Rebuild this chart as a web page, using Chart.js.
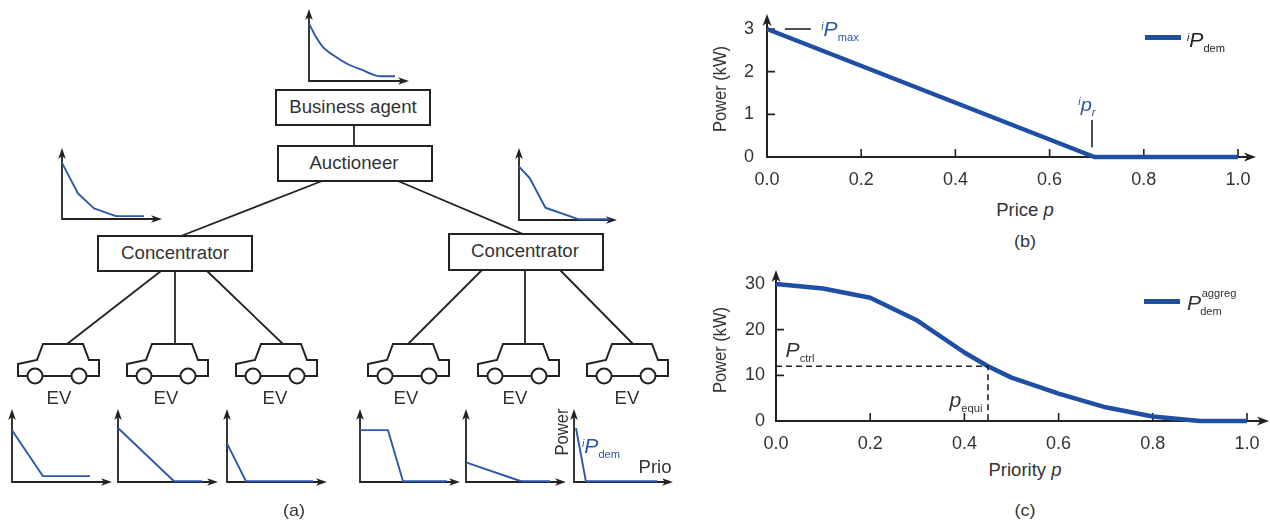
<!DOCTYPE html>
<html><head><meta charset="utf-8">
<style>
html,body{margin:0;padding:0;background:#fff;width:1270px;height:520px;overflow:hidden}
#stage{position:relative;width:1270px;height:520px;font-family:"Liberation Sans",Arial,sans-serif;color:#333}
canvas,svg{position:absolute}
.t{position:absolute;white-space:nowrap;line-height:1;transform:translate(-50%,-50%) scaleX(1.06)}
.v{transform:translate(-50%,-50%) scaleX(1.1) rotate(-90deg)}
.m span{position:relative}
</style>
<script src="https://cdn.jsdelivr.net/npm/chart.js@4/dist/chart.umd.js"></script>
</head><body><div id="stage"><svg id="dg" width="1270" height="520"></svg></div>
<script>
// ---- Data ----
const priceP = [0, 0.695, 1];
const demandKW = [3, 0, 0];
const priorityP = [0, 0.1, 0.2, 0.3, 0.4, 0.45, 0.5, 0.6, 0.7, 0.8, 0.9, 1];
const aggregKW = [30, 29, 27, 22, 15, 12, 9.5, 6, 3, 1, 0, 0];
const ctrlDashX = [0, 0.45, 0.45];
const ctrlDashY = [12, 12, 0];
const pmaxMarkX = [0.038, 0.093];
const pmaxMarkY = [3, 3];
const prMarkX = [0.69, 0.69];
const prMarkY = [0.23, 0.87];

const agentX = [0, 0.07, 0.14, 0.24, 0.38, 0.52, 0.72, 0.86];
const agentY = [0.80, 0.61, 0.47, 0.36, 0.24, 0.16, 0.065, 0.065];
const concLX = [0, 0.16, 0.32, 0.54, 0.82];
const concLY = [0.79, 0.36, 0.15, 0.04, 0.04];
const concRX = [0, 0.11, 0.27, 0.61, 0.93];
const concRY = [0.74, 0.58, 0.17, 0.01, 0.01];
const ev1X = [0, 0.31, 0.78];
const ev1Y = [0.71, 0.08, 0.08];
const ev2X = [0, 0.56, 0.84];
const ev2Y = [0.74, 0.01, 0.01];
const ev3X = [0, 0.19, 0.86];
const ev3Y = [0.53, 0.01, 0.01];
const ev4X = [0, 0.28, 0.43, 0.87];
const ev4Y = [0.71, 0.71, 0.01, 0.01];
const ev5X = [0, 0.55, 0.84];
const ev5Y = [0.27, 0.01, 0.01];
const ev6X = [0.02, 0.12, 0.84];
const ev6Y = [0.74, 0.01, 0.01];

// ---- Styles ----
const BLUE = '#1f4fa3', MINI = '#2b58ad', INK = '#222', TXT = '#333';
const FONT = '"Liberation Sans",Arial,sans-serif';
const zip = (a, b) => a.map((x, i) => ({x, y: b[i]}));

// axes with arrow heads and inward ticks, positioned by the scales
Chart.register({
  id: 'arrowAxes',
  beforeDatasetsDraw(c, _a, o) {
    const {left, right, top, bottom} = c.chartArea, g = c.ctx;
    const tx = right + (o.extraX || 0), ty = top - (o.extraY || 0), lw = o.lw || 2, hl = o.head || 11, hw = o.headW || 4.5;
    g.save();
    g.strokeStyle = INK; g.fillStyle = INK; g.lineWidth = lw;
    g.beginPath(); g.moveTo(left, ty + hl / 2); g.lineTo(left, bottom); g.lineTo(tx - hl / 2, bottom); g.stroke();
    g.beginPath(); g.moveTo(left, ty); g.lineTo(left + hw, ty + hl); g.lineTo(left, ty + hl * 0.72); g.lineTo(left - hw, ty + hl); g.closePath(); g.fill();
    g.beginPath(); g.moveTo(tx, bottom); g.lineTo(tx - hl, bottom - hw); g.lineTo(tx - hl * 0.72, bottom); g.lineTo(tx - hl, bottom + hw); g.closePath(); g.fill();
    if (o.ticks) {
      g.lineWidth = 1.6; g.beginPath();
      c.scales.x.ticks.forEach(t => { if (t.value) { const p = c.scales.x.getPixelForValue(t.value); g.moveTo(p, bottom); g.lineTo(p, bottom - 8); } });
      c.scales.y.ticks.forEach(t => { if (t.value) { const p = c.scales.y.getPixelForValue(t.value); g.moveTo(left, p); g.lineTo(left + 8, p); } });
      g.stroke();
    }
    g.restore();
  }
});

const stage = document.getElementById('stage');
function canvasAt(x, y, w, h) {
  const c = document.createElement('canvas');
  c.width = w; c.height = h;
  c.style.left = x + 'px'; c.style.top = y + 'px'; c.style.width = w + 'px'; c.style.height = h + 'px';
  stage.appendChild(c);
  return c;
}

// ---- Main panels ----
function mainChart(box, yMax, yStep, series, xTip, yTip, yPad) {
  new Chart(canvasAt(box.cx, box.cy, box.cw, box.ch), {
    type: 'line',
    data: {datasets: series},
    options: {
      responsive: false, animation: false, devicePixelRatio: 1,
      layout: {padding: {left: 0, top: box.py - box.cy, right: box.cx + box.cw - box.px - box.pw, bottom: 0}},
      plugins: {legend: {display: false}, tooltip: {enabled: false}, arrowAxes: {extraX: xTip, extraY: yTip, lw: 2, ticks: true, head: 12, headW: 4.5}},
      elements: {point: {radius: 0}},
      scales: {
        x: {type: 'linear', min: 0, max: 1, grid: {display: false}, border: {display: false},
            ticks: {stepSize: 0.2, autoSkip: false, maxRotation: 0, padding: 4, color: TXT, font: {family: FONT, size: 18}, callback: v => v.toFixed(1)},
            afterFit: s => { s.height = box.cy + box.ch - box.py - box.ph; }},
        y: {type: 'linear', min: 0, max: yMax, grid: {display: false}, border: {display: false},
            ticks: {stepSize: yStep, padding: yPad, color: TXT, font: {family: FONT, size: 18}},
            afterFit: s => { s.width = box.px - box.cx; }}
      }
    }
  });
}
const curve = (d, w, color) => ({data: d, borderColor: color, borderWidth: w, fill: false, tension: 0, clip: false, borderJoinStyle: 'round'});

mainChart({cx: 700, cy: 0, cw: 570, ch: 200, px: 767, py: 29, pw: 471, ph: 128}, 3, 1, [
  curve(zip(priceP, demandKW), 4.5, BLUE),
  curve(zip(pmaxMarkX, pmaxMarkY), 1.6, INK),
  curve(zip(prMarkX, prMarkY), 1.6, INK)
], 18, 15, 5);

mainChart({cx: 700, cy: 260, cw: 570, ch: 200, px: 776, py: 284, pw: 471, ph: 137}, 30, 10, [
  Object.assign(curve(zip(ctrlDashX, ctrlDashY), 1.6, INK), {borderDash: [6, 4]}),
  curve(zip(priorityP, aggregKW), 4.5, BLUE)
], 22, 14, 3);

// ---- Small demand plots ----
const miniPlots = [
  [309, 81, 100, 72, agentX, agentY],
  [62, 219, 100, 71, concLX, concLY],
  [519, 220, 98, 72, concRX, concRY],
  [12, 482, 100, 73, ev1X, ev1Y],
  [118, 482, 100, 73, ev2X, ev2Y],
  [227, 482, 100, 73, ev3X, ev3Y],
  [360, 482, 100, 73, ev4X, ev4Y],
  [466, 482, 100, 73, ev5X, ev5Y],
  [574, 482, 99, 73, ev6X, ev6Y]
];
miniPlots.forEach(([ox, oy, w, h, xs, ys]) => {
  const m = 8;
  const ds = curve(zip(xs, ys), 1.9, MINI);
  if (xs === agentX) ds.cubicInterpolationMode = 'monotone';
  new Chart(canvasAt(ox - m, oy - h - m, w + 2 * m, h + 2 * m), {
    type: 'line',
    data: {datasets: [ds]},
    options: {
      responsive: false, animation: false, devicePixelRatio: 1,
      layout: {padding: m},
      plugins: {legend: {display: false}, tooltip: {enabled: false}, arrowAxes: {lw: 1.8, head: 11, headW: 3.8}},
      elements: {point: {radius: 0}},
      scales: {x: {type: 'linear', min: 0, max: 1, display: false}, y: {type: 'linear', min: 0, max: 1, display: false}}
    }
  });
});

// ---- Block diagram ----
const svg = document.getElementById('dg');
function el(n, a) { const e = document.createElementNS('http://www.w3.org/2000/svg', n); for (const k in a) e.setAttribute(k, a[k]); svg.appendChild(e); return e; }
[[354,125,354,146],[322,181,181,236],[398,181,523,234],
 [161,271,67,344],[175,271,175,344],[207,271,283,344],
 [482,270,408,344],[525,270,525,344],[560,270,633,344]].forEach(([x1,y1,x2,y2]) =>
  el('line', {x1, y1, x2, y2, stroke: INK, 'stroke-width': 1.8}));
[[276,90,154,35],[278,146,154,35],[98,236,154,35],[449,234,154,36]].forEach(([x,y,width,height]) =>
  el('rect', {x, y, width, height, fill: '#fff', stroke: INK, 'stroke-width': 2}));
[0, 109, 218, 350, 460, 569].forEach(dx => {
  el('path', {d: 'M18 364 L37 360 L43 344 L83 344 L89 360 L99 360 L99 376 L18 376 Z', transform: `translate(${dx} 0)`, fill: '#fff', stroke: INK, 'stroke-width': 2, 'stroke-linejoin': 'miter'});
  [35, 79].forEach(cx => el('circle', {cx: cx + dx, cy: 376, r: 7.5, fill: '#fff', stroke: INK, 'stroke-width': 2}));
});

// ---- Text ----
function T(html, x, y, size, o) {
  o = o || {};
  const d = document.createElement('div');
  d.className = 't' + (o.v ? ' v' : '') + ' m';
  d.innerHTML = html;
  d.style.left = x + 'px'; d.style.top = y + 'px'; d.style.fontSize = size + 'px';
  if (o.color) d.style.color = o.color;
  stage.appendChild(d);
}
const sub = s => `<span style="font-size:10.5px;top:5px">${s}</span>`;
const sup_i = `<span style="font-size:10px;top:-6px;font-style:italic">i</span>`;
const P = `<i style="font-size:20px">P</i>`;
const L = '#2c55a3';

T('Business agent', 353, 108, 17.6);
T('Auctioneer', 354, 164, 17.6);
T('Concentrator', 175, 254, 17.6);
T('Concentrator', 525, 252, 17.6);
[59, 166, 275, 406, 515, 627].forEach(x => T('EV', x, 399, 17.5));
T('(a)', 294, 510, 17);
T('(b)', 1025, 241, 17);
T('(c)', 1025, 510, 17);
T('Power', 562, 432, 16.5, {v: true});
T('Prio', 655, 468, 17.5);
T(sup_i + P + sub('dem'), 601, 446, 16, {color: L});
T('Price <i>p</i>', 1025, 211, 17.5);
T('Priority <i>p</i>', 1025, 471, 17.5);
T('Power (kW)', 720, 89, 16.5, {v: true});
T('Power (kW)', 720, 350, 16.5, {v: true});
T(sup_i + P + sub('max'), 840, 29, 16, {color: L});
T(sup_i + P + sub('dem'), 1206, 40, 16, {color: INK});
T(sup_i + `<i style="font-size:19px">p</i>` + `<i style="font-size:11px;top:5px;position:relative">r</i>`, 1087, 104, 16, {color: L});
T(P + sub('ctrl'), 800, 350, 16);
T(`<i style="font-size:20px">p</i>` + sub('equi'), 966, 400, 16);
// stacked sub/superscripts for the aggregate legend entry
T(P, 1194, 303, 16);
T('aggreg', 1219, 293, 10.5);
T('dem', 1211, 311, 10.5);

// legend keys
function key(x, y, w, c) { const d = document.createElement('div'); d.style.cssText = `position:absolute;left:${x}px;top:${y - 2}px;width:${w}px;height:5px;background:${c}`; stage.appendChild(d); }
key(1145, 37, 36, BLUE);
key(1144, 301, 36, BLUE);
</script></body></html>
